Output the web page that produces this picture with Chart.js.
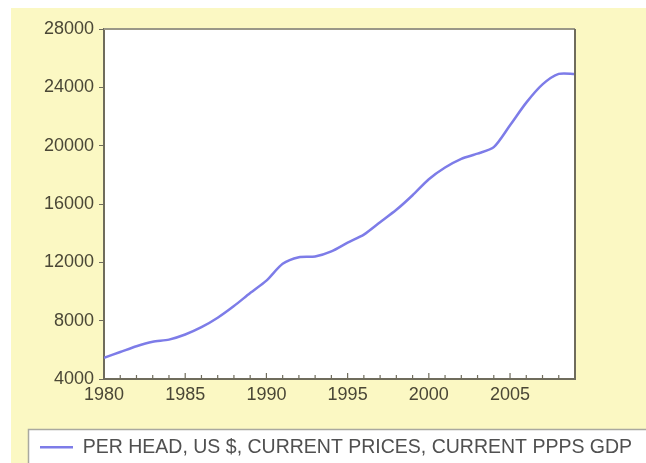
<!DOCTYPE html>
<html>
<head>
<meta charset="utf-8">
<script src="https://cdn.jsdelivr.net/npm/chart.js@4.4.1/dist/chart.umd.min.js"></script>
<style>
  html, body { margin: 0; padding: 0; background: #fff; }
  #wrap { width: 646px; height: 463px; }
</style>
</head>
<body>
<div id="wrap"><canvas id="gdpChart" width="646" height="463"></canvas></div>
<script>
// *****Data***** //
const years = [1980, 1981, 1982, 1983, 1984, 1985, 1986, 1987, 1988, 1989,
               1990, 1991, 1992, 1993, 1994, 1995, 1996, 1997, 1998, 1999,
               2000, 2001, 2002, 2003, 2004, 2005, 2006, 2007, 2008, 2009];
const gdpPerHead = [5450, 5850, 6250, 6550, 6700, 7050, 7550, 8200, 9000, 9900,
                    10750, 11900, 12350, 12400, 12750, 13350, 13900, 14750, 15600, 16600,
                    17700, 18500, 19100, 19450, 19900, 21400, 22950, 24200, 24920, 24920];
const yTicks = [4000, 8000, 12000, 16000, 20000, 24000, 28000];
const xTicks = [1980, 1985, 1990, 1995, 2000, 2005];
const seriesName = 'PER HEAD, US $, CURRENT PRICES, CURRENT PPPS GDP';

const textColor = '#4a4736';
const axisColor = '#6f6c5c';
const legendBoxTop = 429;

// background, plot box and legend box
const frame = {
    id: 'frame',
    afterLayout(chart) {
        // nudge legend row down a little inside its box
        const lg = chart.legend;
        if (lg) { lg.top += 4; lg.bottom += 4; }
    },
    beforeDraw(chart) {
        const c = chart.ctx;
        const a = chart.chartArea;
        c.save();
        c.fillStyle = '#ffffff';
        c.fillRect(0, 0, chart.width, chart.height);
        c.fillStyle = '#fbf8c3';
        c.fillRect(11, 8, chart.width - 11, chart.height - 8);
        c.fillStyle = '#ffffff';
        c.fillRect(a.left, a.top, a.right - a.left, a.bottom - a.top);
        c.fillRect(28.5, legendBoxTop + 0.5, chart.width, chart.height);
        c.strokeStyle = '#a9a9a0';
        c.lineWidth = 1.5;
        c.strokeRect(28.5, legendBoxTop + 0.5, chart.width, chart.height);
        c.restore();
    },
    afterDatasetsDraw(chart) {
        const c = chart.ctx;
        const a = chart.chartArea;
        const x = chart.scales.x;
        c.save();
        c.strokeStyle = axisColor;
        c.lineWidth = 1.2;
        // small inside ticks every year
        years.forEach(yr => {
            const px = x.getPixelForValue(yr);
            const len = yr % 5 === 0 ? 6 : 4;
            c.beginPath();
            c.moveTo(px, a.bottom);
            c.lineTo(px, a.bottom - len);
            c.stroke();
        });
        c.lineWidth = 2;
        c.beginPath();
        c.moveTo(a.left, a.top);
        c.lineTo(a.right, a.top);
        c.strokeStyle = '#9a9888';
        c.stroke();
        c.beginPath();
        c.moveTo(a.right, a.top);
        c.lineTo(a.right, a.bottom);
        c.strokeStyle = axisColor;
        c.stroke();
        c.restore();
    }
};

const ctx = document.getElementById('gdpChart');
if (ctx) {
    const gdpChart = new Chart(ctx, {
        type: 'line',
        data: {
            datasets: [{
                label: seriesName,
                data: years.map((yr, i) => ({ x: yr, y: gdpPerHead[i] })),
                borderColor: '#7d7ce8',
                backgroundColor: '#7d7ce8',
                borderWidth: 2.5,
                pointRadius: 0,
                tension: 0.25,
                fill: false
            }]
        },
        options: {
            responsive: false,
            animation: false,
            layout: { padding: { left: 34, right: 0, top: 29, bottom: 0 } },
            scales: {
                x: {
                    type: 'linear',
                    min: 1980,
                    max: 2009,
                    afterBuildTicks: s => { s.ticks = xTicks.map(v => ({ value: v })); },
                    afterFit: s => {
                        const lh = s.chart.legend ? s.chart.legend.height : 0;
                        s.height = 463 - 379 - lh;
                    },
                    grid: { drawOnChartArea: false, drawTicks: false },
                    border: { color: axisColor, width: 2 },
                    ticks: {
                        padding: 5,
                        color: textColor,
                        font: { family: 'Liberation Sans, Arial', size: 18 },
                        maxRotation: 0,
                        callback: v => String(v)
                    }
                },
                y: {
                    min: 4000,
                    max: 28000,
                    afterBuildTicks: s => { s.ticks = yTicks.map(v => ({ value: v })); },
                    afterFit: s => { s.width = 104 - 34; },
                    grid: { drawOnChartArea: false, drawTicks: true, tickLength: 5, color: axisColor },
                    border: { color: axisColor, width: 2 },
                    ticks: {
                        padding: 5,
                        color: textColor,
                        font: { family: 'Liberation Sans, Arial', size: 18 },
                        callback: v => String(v)
                    }
                },
                // empty right margin so the legend can use the full width
                rightMargin: {
                    position: 'right',
                    display: true,
                    afterFit: s => { s.width = 646 - 575; },
                    grid: { display: false },
                    border: { display: false },
                    ticks: { display: false }
                }
            },
            plugins: {
                legend: {
                    position: 'bottom',
                    align: 'start',
                    labels: {
                        usePointStyle: true,
                        pointStyle: 'line',
                        pointStyleWidth: 33,
                        boxWidth: 33,
                        padding: 6,
                        color: '#505050',
                        font: { family: 'Liberation Sans, Arial', size: 19.5 }
                    }
                },
                tooltip: { enabled: false }
            }
        },
        plugins: [frame]
    });
}
</script>
</body>
</html>
